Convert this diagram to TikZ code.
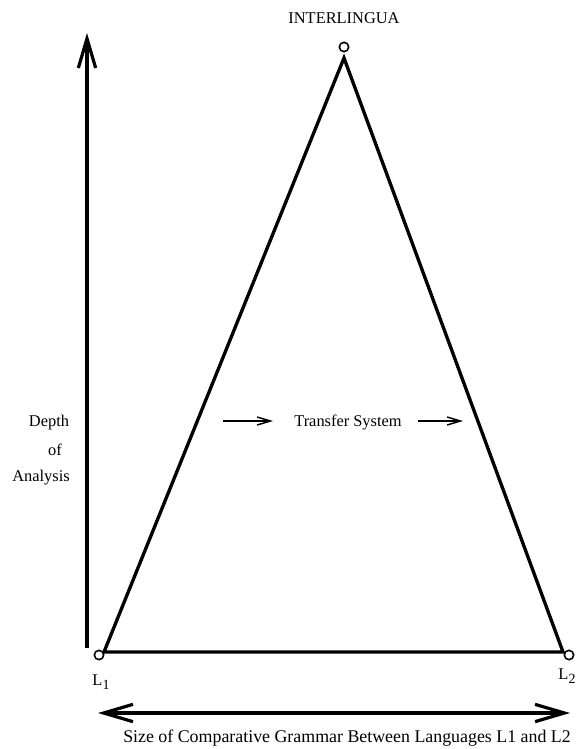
\documentclass[tikz,border=0pt]{standalone}
\usepackage{fontspec}
\setmainfont{Liberation Serif}
\usetikzlibrary{arrows.meta}
\newcommand{\sub}[1]{\raisebox{-0.6ex}{\fontsize{10.5}{10.5}\selectfont #1}}
\tikzset{
  port/.style={circle,draw,line width=1.2pt,fill=white,inner sep=0pt,minimum size=7pt},
  edge/.style={line width=2.5pt,line join=miter},
  axis/.style={line width=2.6pt,-{Straight Barb[length=22pt,width=13pt,line width=2.4pt]}},
  axis2/.style={line width=2.6pt,{Straight Barb[length=22pt,width=13pt,line width=2.4pt]}-{Straight Barb[length=22pt,width=13pt,line width=2.4pt]}},
  flow/.style={line width=1.2pt,-{Straight Barb[length=10pt,width=6pt,line width=1.1pt]}},
  lbl/.style={font=\fontsize{12.3}{14}\selectfont,inner sep=0pt},
}
\begin{document}
\begin{tikzpicture}[x=0.75pt,y=-0.75pt]
  \useasboundingbox (0,0) rectangle (576,749);
  % triangle
  \coordinate (top) at (344,58);
  \coordinate (left) at (104,652);
  \coordinate (right) at (563,652);
  \draw[edge] (top) -- (left) -- (right) -- cycle;
  \node[port] (apex) at (344,47) {};
  \node[port] (lone) at (99,655) {};
  \node[port] (ltwo) at (569,655) {};
  \node[lbl] (inter) at (344,18) {INTERLINGUA};
  \node[lbl] (lonetxt) at (101,682) {L\sub{1}};
  \node[lbl] (ltwotxt) at (567,676) {L\sub{2}};
  % transfer
  \node[lbl] (transfer) at (348,422) {Transfer System};
  \coordinate (ta) at (223,421);
  \coordinate (tb) at (273,421);
  \coordinate (tc) at (418,421);
  \coordinate (td) at (463,421);
  \draw[flow] (ta) -- (tb);
  \draw[flow] (tc) -- (td);
  % depth axis
  \coordinate (vbot) at (87,648);
  \coordinate (vtop) at (87,33);
  \draw[axis] (vbot) -- (vtop);
  \node[lbl] (depth) at (49,423) {Depth};
  \node[lbl] (of) at (55,450) {of};
  \node[lbl] (analysis) at (41,478) {Analysis};
  % size axis
  \coordinate (hl) at (98,713);
  \coordinate (hr) at (570,713);
  \draw[axis2] (hl) -- (hr);
  \node[lbl,font=\fontsize{13.4}{15}\selectfont] (size) at (347,738) {Size of Comparative Grammar Between Languages L1 and L2};
\end{tikzpicture}
\end{document}
